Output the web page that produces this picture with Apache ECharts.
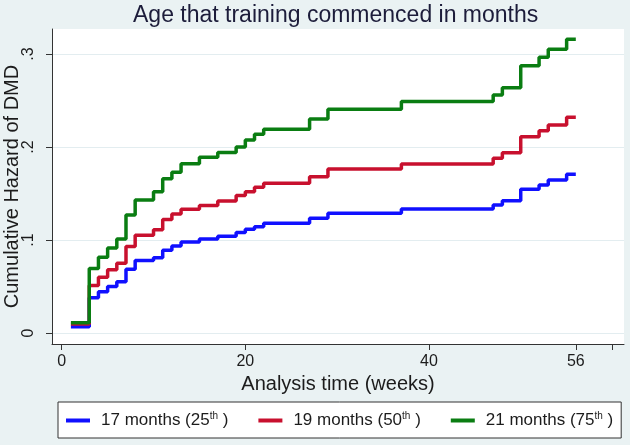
<!DOCTYPE html>
<html>
<head>
<meta charset="utf-8">
<script src="https://cdn.jsdelivr.net/npm/echarts@6/dist/echarts.min.js"></script>
<style>
html,body{margin:0;padding:0;background:#eaf2f3;}
#chart{width:630px;height:445px;}
</style>
</head>
<body>
<div id="chart"></div>
<script>
var weeks = [1, 3, 4, 5, 6, 7, 8, 10, 11, 12, 13, 15, 17, 19, 20, 21, 22, 27, 29, 37, 47, 48, 50, 52, 53, 55, 56];
var hazard17 = [0.0068, 0.038, 0.0445, 0.050, 0.055, 0.0685, 0.078, 0.081, 0.089, 0.0935, 0.098, 0.101, 0.104, 0.108, 0.1115, 0.1143, 0.118, 0.1233, 0.1287, 0.1333, 0.1376, 0.1423, 0.1545, 0.1591, 0.1645, 0.1706, 0.1706];
var hazard19 = [0.0096, 0.051, 0.060, 0.068, 0.075, 0.093, 0.105, 0.111, 0.122, 0.128, 0.133, 0.137, 0.142, 0.148, 0.152, 0.1567, 0.161, 0.168, 0.1763, 0.1817, 0.1878, 0.1939, 0.2111, 0.2176, 0.2237, 0.2319, 0.2319];
var hazard21 = [0.011, 0.0695, 0.0814, 0.0914, 0.101, 0.127, 0.143, 0.152, 0.166, 0.173, 0.182, 0.189, 0.194, 0.200, 0.2075, 0.2136, 0.219, 0.230, 0.2405, 0.249, 0.256, 0.2638, 0.2875, 0.2964, 0.305, 0.3158, 0.3158];
var seriesNames = ['17 months (25th )', '19 months (50th )', '21 months (75th )'];
var seriesColors = ['#1010ff', '#c8102e', '#0a7d12'];
var xTickLabels = [0, 20, 40, 56];
var xTicks = [0, 20, 40, 56, 60];
var yTicks = [0, 0.1, 0.2, 0.3];

function pairs(ys) { return weeks.map(function (w, i) { return [w, ys[i]]; }); }

var chart = echarts.init(document.getElementById('chart'));
var font = 'Liberation Sans, Arial, sans-serif';
var allData = [hazard17, hazard19, hazard21];
chart.setOption({
  backgroundColor: '#eaf2f3',
  animation: false,
  title: {
    text: 'Age that training commenced in months',
    left: 128, top: -1,
    textStyle: { fontFamily: font, fontSize: 23, fontWeight: 'normal', color: '#1c1c3a' }
  },
  grid: {
    left: 52, right: 6, top: 29, bottom: 101, show: true, backgroundColor: '#ffffff', borderWidth: 0,
    containLabel: false, outerBoundsMode: 'none'
  },
  xAxis: {
    type: 'value', min: -1.06, max: 61.25,
    name: 'Analysis time (weeks)', nameLocation: 'middle', nameGap: 29,
    nameTextStyle: { fontFamily: font, fontSize: 20, color: '#1c1c1c' },
    axisLine: { show: true, onZero: false, lineStyle: { color: '#333', width: 1 } },
    axisTick: { show: true, length: 6, customValues: xTicks, lineStyle: { color: '#333' } },
    axisLabel: { customValues: xTickLabels, margin: 10, fontFamily: font, fontSize: 16, color: '#1c1c1c' },
    splitLine: { show: false }
  },
  yAxis: {
    type: 'value', min: -0.0118, max: 0.3269,
    name: 'Cumulative Hazard of DMD', nameLocation: 'middle', nameGap: 30, nameMoveOverlap: false,
    nameTextStyle: { fontFamily: font, fontSize: 20, color: '#1c1c1c' },
    axisLine: { show: true, onZero: false, lineStyle: { color: '#333', width: 1 } },
    axisTick: { show: true, length: 6, customValues: yTicks, lineStyle: { color: '#333' } },
    axisLabel: {
      customValues: yTicks, rotate: 90, margin: 15, fontFamily: font, fontSize: 16, color: '#1c1c1c',
      formatter: function (v) { return v === 0 ? '0' : String(Math.round(v * 10) / 10).replace(/^0/, ''); }
    },
    splitLine: { show: true, customValues: yTicks, lineStyle: { color: '#e3edf0', width: 1 } }
  },
  legend: {
    left: 58, top: 402,
    padding: [9, 8, 9, 8],
    backgroundColor: '#ffffff', borderColor: '#333', borderWidth: 1, borderRadius: 0,
    icon: 'rect', itemWidth: 24, itemHeight: 4, itemGap: 30,
    textStyle: {
      fontFamily: font, fontSize: 17, color: '#1c1c1c', padding: [0, 0, 0, 6],
      rich: { sup: { fontFamily: font, fontSize: 10, color: '#1c1c1c', padding: [0, 0, 9, 0] } }
    },
    formatter: function (name) { return name.replace(/(\d)th/, '$1{sup|th}'); },
    data: seriesNames
  },
  series: allData.map(function (d, i) {
    return {
      name: seriesNames[i], type: 'line', step: 'end', data: pairs(d),
      showSymbol: false, symbol: 'none',
      lineStyle: { color: seriesColors[i], width: 3.5 },
      itemStyle: { color: seriesColors[i] }
    };
  })
});
</script>
</body>
</html>
